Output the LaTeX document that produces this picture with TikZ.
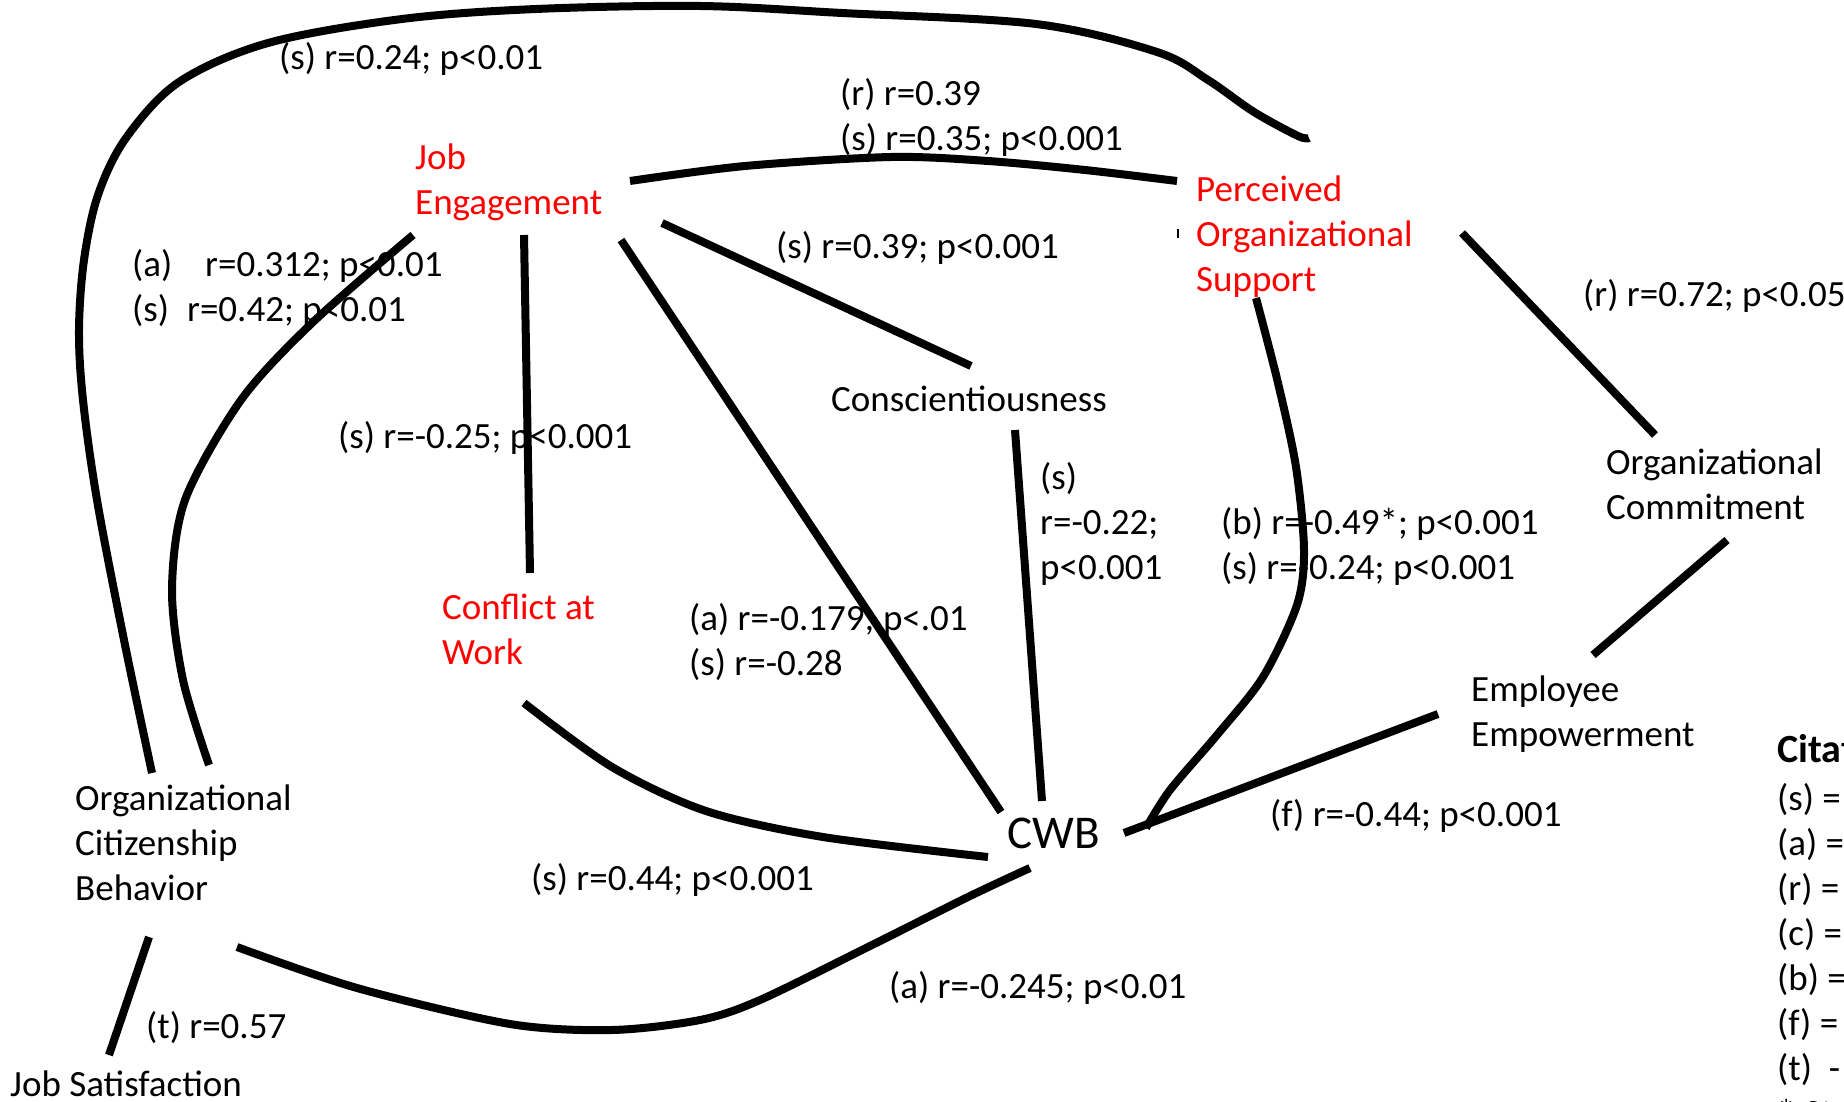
\documentclass[tikz,border=0pt]{standalone}
\usepackage{fontspec}
\setmainfont{Carlito}
\begin{document}
\begin{tikzpicture}[x=1pt,y=-1pt]
\tikzset{
  lbl/.style={anchor=base west, inner sep=0pt, font=\fontsize{37}{45}\selectfont},
  blk/.style={anchor=north west, inner sep=0pt, align=left, font=\fontsize{37}{45}\selectfont},
  hot/.style={text=red},
  conn/.style={line width=8pt, line join=round}
}
\useasboundingbox (0,0) rectangle (1844,1102);
\clip (0,0) rectangle (1844,1102);
\fill[white] (0,0) rectangle (1844,1102);

% concept nodes
\node[blk,hot] (je)  at (415,137.5) {\strut Job\\Engagement};
\node[blk,hot] (pos) at (1196,169.5) {\strut Perceived\\Organizational\\Support};
\node[lbl] (consc) at (831,411) {Conscientiousness};
\node[blk] (oc)  at (1606,442.5) {\strut Organizational\\Commitment};
\node[blk,hot] (cw) at (442,587.5) {\strut Conflict at\\Work};
\node[blk] (ee)  at (1471,669.5) {\strut Employee\\Empowerment};
\node[blk] (ocb) at (75,778.5) {\strut Organizational\\Citizenship\\Behavior};
\node[lbl, font=\fontsize{47}{56}\selectfont] (cwb) at (1007,848) {CWB};
\node[lbl] (js) at (10,1096) {Job Satisfaction};

% connector labels
\node[lbl] (l1) at (279,70) {(s) r=0.24; p<0.01};
\node[blk] (l2) at (840,73.5) {\strut (r) r=0.39\\(s) r=0.35; p<0.001};
\node[lbl] (l3) at (776,258) {(s) r=0.39; p<0.001};
\node[blk] (l4) at (132,244.5) {\strut\makebox[73pt][l]{(a)}r=0.312; p<0.01\\\makebox[55pt][l]{(s)}r=0.42; p<0.01};
\node[lbl] (l5) at (1583,306) {(r) r=0.72; p<0.05};
\node[lbl] (l6) at (338,448) {(s) r=-0.25; p<0.001};
\node[blk] (l7) at (1040,457.5) {\strut (s)\\r=-0.22;\\p<0.001};
\node[blk] (l8) at (1221,502.5) {\strut (b) r=-0.49*; p<0.001\\(s) r=-0.24; p<0.001};
\node[blk] (l9) at (689,598.5) {\strut (a) r=-0.179; p<.01\\(s) r=-0.28};
\node[lbl] (l10) at (1270,826) {(f) r=-0.44; p<0.001};
\node[lbl] (l11) at (531,890) {(s) r=0.44; p<0.001};
\node[lbl] (l12) at (889,998) {(a) r=-0.245; p<0.01};
\node[lbl] (l13) at (146,1038) {(t) r=0.57};

% citations
\node[lbl, font=\fontsize{40}{45}\selectfont\bfseries] (cith) at (1777,762) {Citations};
\node[blk] (cit) at (1777,778.5) {\strut (s) =\\(a) =\\(r) =\\(c) =\\(b) =\\(f) =\\(t)\ \ -\\* St};

% connector end points
\coordinate (ocbA) at (152,773);
\coordinate (posA) at (1309,138);
\coordinate (jeA) at (630,181);
\coordinate (posB) at (1177,181);
\coordinate (jeB) at (662,223);
\coordinate (conscA) at (971,366);
\coordinate (jeC) at (621,240);
\coordinate (cwbA) at (1001,812);
\coordinate (jeD) at (524,235);
\coordinate (cwA) at (530,573);
\coordinate (jeE) at (413,235);
\coordinate (ocbB) at (209,765);
\coordinate (cwB) at (524,703);
\coordinate (cwbB) at (988,857);
\coordinate (conscB) at (1015,430);
\coordinate (cwbC) at (1042,801);
\coordinate (posC) at (1256,298);
\coordinate (cwbD) at (1146,828);
\coordinate (posD) at (1462,233);
\coordinate (ocA) at (1655,435);
\coordinate (ocB) at (1727,540);
\coordinate (eeA) at (1593,655);
\coordinate (eeB) at (1438,714);
\coordinate (cwbE) at (1124,833);
\coordinate (ocbC) at (237,947);
\coordinate (cwbF) at (1030,868);
\coordinate (ocbD) at (149,937);
\coordinate (jsA) at (109,1055);

% connectors
\draw[conn] plot[smooth, tension=0.55] coordinates {(ocbA) (124,640) (97,500) (83,400) (79,330) (84,260) (98,195) (126,138) (179,82) (268,43) (402,19) (536,9) (700,6) (842,13) (1036,24) (1157,52) (1208,80) (1254,112) (1298,136) (posA)};
\draw[conn] plot[smooth, tension=0.5] coordinates {(jeA) (745,166) (891,157) (988,161) (1085,170) (posB)};
\draw[line width=1.5pt] (1178,229) -- (1178,238);
\draw[conn] (jeB) -- (conscA);
\draw[conn] (jeC) -- (cwbA);
\draw[conn] (jeD) -- (cwA);
\draw[conn] plot[smooth, tension=0.5] coordinates {(jeE) (312,323) (241,400) (185,500) (172,590) (183,680) (ocbB)};
\draw[conn] plot[smooth, tension=0.5] coordinates {(cwB) (612,767) (706,811) (823,837) (cwbB)};
\draw[conn] (conscB) -- (cwbC);
\draw[conn] plot[smooth, tension=0.5] coordinates {(posC) (1278,383) (1296,467) (1304,550) (1297,605) (1263,677) (1217,735) (1170,790) (cwbD)};
\draw[conn] (posD) -- (ocA);
\draw[conn] (ocB) -- (eeA);
\draw[conn] (eeB) -- (cwbE);
\draw[conn] plot[smooth, tension=0.5] coordinates {(ocbC) (357,988) (510,1024) (612,1030) (700,1020) (760,1000) (872,945) (970,896) (cwbF)};
\draw[conn] (ocbD) -- (jsA);
\end{tikzpicture}
\end{document}
